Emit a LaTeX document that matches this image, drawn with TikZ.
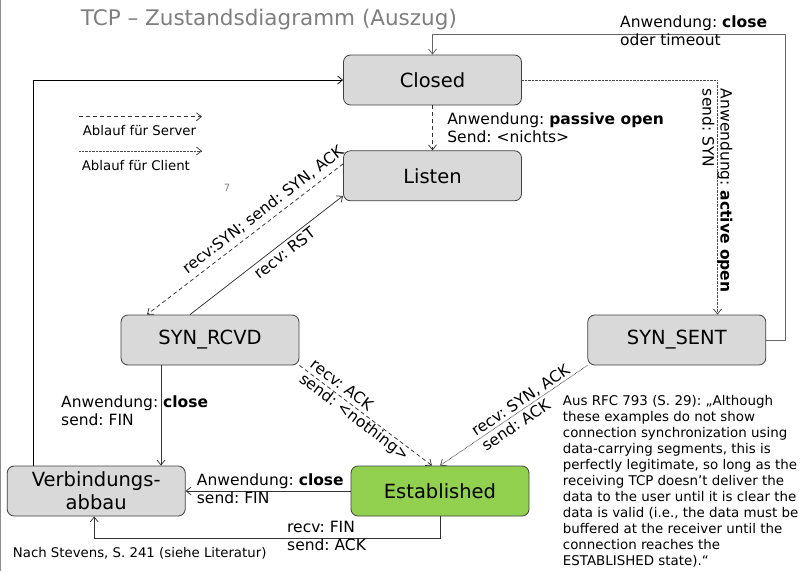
\documentclass[tikz,border=0pt]{standalone}
\usepackage{fontspec}
\setmainfont{DejaVu Sans}
\usetikzlibrary{arrows.meta,positioning}
\frenchspacing

\definecolor{zgrau}{HTML}{D9D9D9}
\definecolor{zgruen}{HTML}{92D050}
\definecolor{titelgrau}{HTML}{7F7F7F}

\begin{document}
\begin{tikzpicture}[x=1pt, y=-1pt,
    zustand/.style={rectangle, draw=black!75, line width=0.8pt, rounded corners=7pt, fill=zgrau,
    minimum width=178pt, minimum height=50pt, inner sep=0pt, align=center,
    font=\fontsize{19.5}{23.3}\selectfont},
    beschriftung/.style={font=\fontsize{15.5}{18}\selectfont, align=left, inner sep=0pt},
    legende/.style={font=\fontsize{13.3}{16}\selectfont, inner sep=0pt},
    uebergang/.style={draw=black!80, line width=0.75pt, -{Straight Barb[length=5pt,width=8pt]}},
    server/.style={uebergang, dash pattern=on 4pt off 3pt},
    client/.style={uebergang, draw=black!70, dash pattern=on 0.7pt off 0.7pt}]

    \fill[white] (0,0) rectangle (805,571);
    \useasboundingbox (0,0) rectangle (805,571);
    \draw[black!45, line width=1.2pt] (0.6,0) -- (0.6,571);

    % Titel
    \node (titel) [anchor=base west, inner sep=0pt, text=titelgrau, font=\fontsize{21.5}{24}\selectfont]
    at (80.7,25) {TCP – Zustandsdiagramm (Auszug)};

    % Zustaende
    \node (Closed) [zustand] at (432.5,80) {Closed};
    \node (Listen) [zustand, below=45pt of Closed] {Listen};
    \node (SYN_RCVD) [zustand] at (210,340) {SYN\_RCVD};
    \node (SYN_SENT) [zustand, right=288pt of SYN_RCVD] {SYN\_SENT};
    \node (Established) [zustand, fill=zgruen] at (440,491) {Established};
    \node (Verbindungsabbau) [zustand, left=165pt of Established] {Verbindungs-\\abbau};

    % Legende
    \coordinate (serverA) at (79,116.7);
    \coordinate (serverB) at (202,116.7);
    \coordinate (clientA) at (79,151);
    \coordinate (clientB) at (202,151);
    \draw[server] (serverA) -- (serverB);
    \draw[client] (clientA) -- (clientB);
    \node (lblServer) [legende, anchor=base west] at (82.7,135.7) {Ablauf für Server};
    \node (lblClient) [legende, anchor=base west] at (81.7,170) {Ablauf für Client};
    \node (seitenzahl) [font=\fontsize{10}{12}\selectfont, text=black!50] at (227,188) {7};

    % Uebergaenge
    \draw[server] (Closed) -- node (lblPassiv) [beschriftung, right=14.5pt]
    {Anwendung: \textbf{passive open}\\Send: <nichts>} (Listen);
    \draw[client] (Closed.east) -| node (lblAktiv) [beschriftung, pos=0.736, rotate=-90]
    {Anwendung: \textbf{active open}\\send: SYN} ([xshift=40.7pt]SYN_SENT.north);
    \draw[uebergang, draw=black!60] (SYN_SENT.east) -| ++(19,-306) -| (Closed.north);
    \node (lblTimeout) [beschriftung, anchor=west] at (620,31) {Anwendung: \textbf{close}\\oder timeout};

    \draw[server] ([yshift=12pt]Listen.west) -- node (lblSynAck) [beschriftung, sloped, above=5pt, pos=0.37]
    {recv:SYN; send: SYN, ACK} ([xshift=-63pt]SYN_RCVD.north);
    \draw[uebergang] ([xshift=-20pt]SYN_RCVD.north) -- node (lblRst) [beschriftung, sloped, below=3pt, pos=0.58]
    {recv: RST} ([yshift=-20pt]Listen.west);
    \draw[server] (SYN_RCVD.south east) -- node (lblAck) [beschriftung, sloped, pos=0.45]
    {recv: ACK\\send: <nothing>} ([xshift=-8pt]Established.north);
    \draw[client] (SYN_SENT.south west) -- node (lblSynAckSent) [beschriftung, sloped, pos=0.42]
    {recv: SYN, ACK\\send: ACK} (Established.north);

    \draw[uebergang] ([xshift=-49pt]SYN_RCVD.south) -- ([xshift=-49pt]SYN_RCVD.south |- Verbindungsabbau.north);
    \node (lblCloseRcvd) [beschriftung, anchor=west] at (61,411) {Anwendung: \textbf{close}\\send: FIN};
    \draw[uebergang] (Established.west) -- (Verbindungsabbau.east);
    \node (lblCloseEst) [beschriftung, anchor=west] at (196.7,488.5) {Anwendung: \textbf{close}\\send: FIN};
    \draw[uebergang] (Established.south) -- ++(0,22) -| ([xshift=-2pt]Verbindungsabbau.south);
    \node (lblFin) [beschriftung, anchor=west] at (287,535.5) {recv: FIN\\send: ACK};
    \draw[uebergang, draw=black] ([xshift=-63.3pt]Verbindungsabbau.north) |- (Closed.west);

    % Quellen
    \node (quelle) [legende, anchor=base west] at (12.7,557) {Nach Stevens, S. 241 (siehe Literatur)};
    \node (rfc) [anchor=north west, align=left, inner sep=0pt, font=\fontsize{13.4}{16}\selectfont] at (562.7,394.8)
    {Aus RFC 793 (S. 29): „Although\\these examples do not show\\connection synchronization using\\
    data-carrying segments, this is\\perfectly legitimate, so long as the\\receiving TCP doesn't deliver the\\
    data to the user until it is clear the\\data is valid (i.e., the data must be\\buffered at the receiver until the\\
    connection reaches the\\ESTABLISHED state).“};
\end{tikzpicture}
\end{document}
